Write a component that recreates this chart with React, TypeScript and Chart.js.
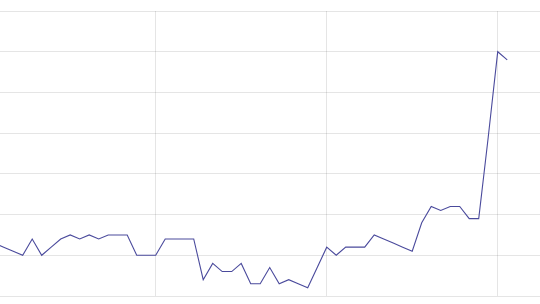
import React, { useEffect, useRef } from "react";
import { Chart, registerables } from "chart.js";

Chart.register(...registerables);

const xIndex: number[] = [
  1, 2, 3, 4, 5, 6, 7, 8, 9, 10, 11, 12, 13, 14, 15, 16, 17, 18, 19, 20,
  21, 22, 23, 24, 25, 26, 27, 28, 29, 30, 31, 32, 33, 34, 35, 36, 37, 38, 39, 40,
  41, 42, 43, 44, 45, 46, 47, 48, 49, 50, 51, 52, 53, 54, 55,
];
const values: number[] = [
  1.3, 1.2, 1.1, 1.0, 1.4, 1.0, 1.2, 1.4, 1.5, 1.4, 1.5, 1.4, 1.5, 1.5, 1.5, 1.0, 1.0, 1.0, 1.4, 1.4,
  1.4, 1.4, 0.4, 0.8, 0.6, 0.6, 0.8, 0.3, 0.3, 0.7, 0.3, 0.4, 0.3, 0.2, 0.7, 1.2, 1.0, 1.2, 1.2, 1.2,
  1.5, 1.4, 1.3, 1.2, 1.1, 1.8, 2.2, 2.1, 2.2, 2.2, 1.9, 1.9, 3.9, 6.0, 5.8,
];
const xGridTicks: number[] = [18, 36, 54];
const yMin = 0;
const yMax = 7;

export default function App() {
  const ref = useRef<HTMLCanvasElement | null>(null);
  useEffect(() => {
    if (!ref.current) return;
    const chart = new Chart(ref.current, {
      type: "line",
      data: {
        datasets: [
          {
            data: xIndex.map((x, i) => ({ x, y: values[i] })),
            borderColor: "#4a4a9c",
            borderWidth: 1.1,
            pointRadius: 0,
            tension: 0,
            fill: false,
          },
        ],
      },
      options: {
        animation: false,
        responsive: true,
        maintainAspectRatio: false,
        layout: { padding: { top: 11, bottom: 8, left: 0, right: 0 } },
        plugins: { legend: { display: false }, tooltip: { enabled: false } },
        scales: {
          x: {
            type: "linear",
            min: 1.61,
            max: 58.45,
            afterBuildTicks: (axis: any) => {
              axis.ticks = xGridTicks.map((v) => ({ value: v }));
            },
            ticks: { display: false },
            grid: { drawTicks: false, color: "rgba(0,0,0,0.1)" },
            border: { display: false },
          },
          y: {
            min: yMin,
            max: yMax,
            ticks: { display: false, stepSize: 1 },
            grid: { drawTicks: false, color: "rgba(0,0,0,0.1)" },
            border: { display: false },
          },
        },
      },
    });
    return () => chart.destroy();
  }, []);
  return (
    <div style={{ position: "fixed", left: 0, top: 0, width: 540, height: 304 }}>
      <canvas ref={ref} />
    </div>
  );
}
